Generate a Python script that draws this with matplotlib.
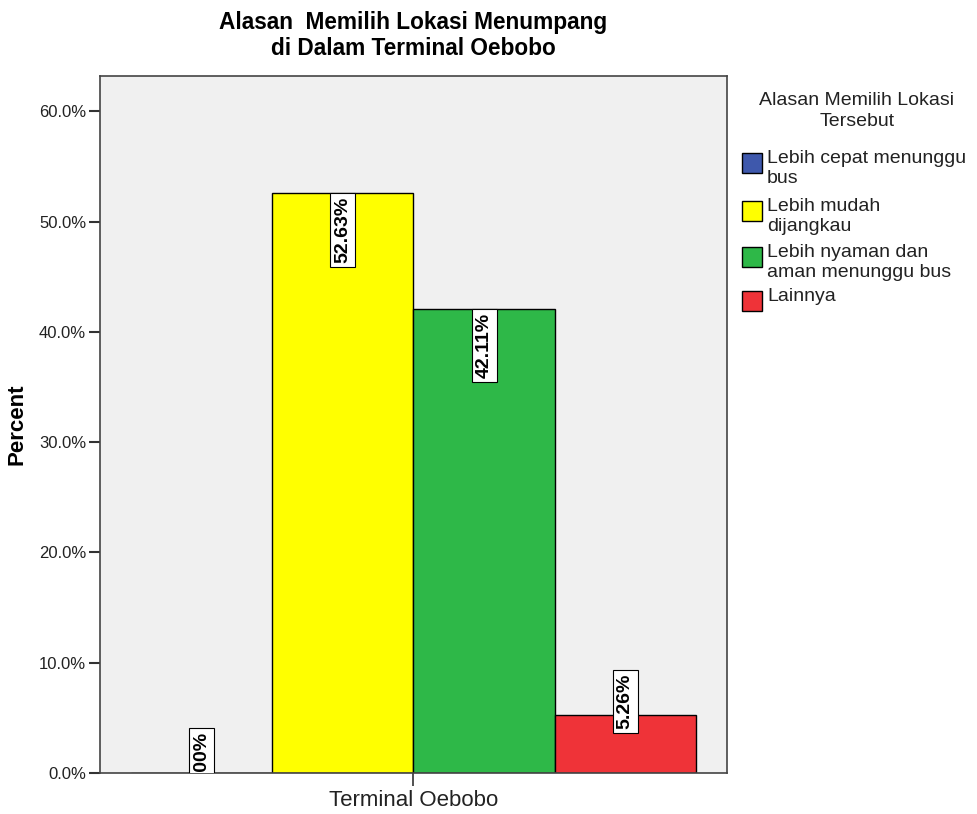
import matplotlib.pyplot as plt
import matplotlib.patches as mpatches
import numpy as np

plt.rcParams['font.family'] = ['Liberation Sans', 'DejaVu Sans']

# Datos del grafico
kategori = ["Lebih cepat menunggu\nbus", "Lebih mudah\ndijangkau",
            "Lebih nyaman dan\naman menunggu bus", "Lainnya"]
persen = [0.0, 52.63, 42.11, 5.26]
label_persen = ["0.00%", "52.63%", "42.11%", "5.26%"]
warna = ["#3E58AC", "#FFFF00", "#2EB848", "#EF3338"]
grup = ["Terminal Oebobo"]
yticks = [0, 10, 20, 30, 40, 50, 60]

fig = plt.figure(figsize=(9.78, 8.14), dpi=100)
ax = fig.add_axes([0.1022, 0.0504, 0.6412, 0.8562])
ax.set_facecolor("#F0F0F0")

lebar = 1.0
n = len(persen)
posisi = (np.arange(n) - (n - 1) / 2) * lebar
ax.bar(posisi, persen, width=lebar, color=warna, edgecolor="black", linewidth=1.0, zorder=2)

# Etiquetas de valores (rotadas, con caja blanca)
kotak = dict(boxstyle="square,pad=0.2", fc="white", ec="black", lw=0.8)
for x, v, lab in zip(posisi, persen, label_persen):
    if v > 8:
        ax.annotate(lab, xy=(x, v), xytext=(0, -3), textcoords="offset points",
                    rotation=90, ha="center", va="top", fontsize=14, fontweight="bold",
                    bbox=kotak, zorder=4, annotation_clip=False)
    else:
        ax.text(x, v + 1.2, lab, rotation=90, ha="center", va="center",
                fontsize=14, fontweight="bold", bbox=kotak, zorder=4, clip_on=True)

ax.set_xlim(-2.22, 2.22)
ax.set_ylim(0, 63.2)
ax.set_yticks(yticks)
ax.set_yticklabels([f"{t:.1f}%" for t in yticks], fontsize=12, color="#222222")
ax.set_xticks([0])
ax.set_xticklabels(grup, fontsize=16, color="#222222")
ax.tick_params(axis="y", length=8, width=1.5, pad=2, color="#333333")
ax.tick_params(axis="x", length=9, width=1.2, pad=3, color="#333333")
for s in ax.spines.values():
    s.set_color("#444444")
    s.set_linewidth(1.2)

ax.set_ylabel("Percent", fontsize=16, fontweight="bold", labelpad=8)
ax.set_title("Alasan  Memilih Lokasi Menumpang\ndi Dalam Terminal Oebobo",
             fontsize=16.3, fontweight="bold", linespacing=1.2, pad=15)

# Leyenda manual
fig.text(857 / 978, 1 - 111 / 814, "Alasan Memilih Lokasi\nTersebut", ha="center", va="center",
         fontsize=14, color="#222222", linespacing=1.25)
y_atas = [163, 211, 257, 301]
for yy, lab, c in zip(y_atas, kategori, warna):
    rect = mpatches.Rectangle((742 / 978, 1 - (yy + 10) / 814), 20 / 978, 20 / 814,
                              transform=fig.transFigure, fc=c, ec="black", lw=1.0)
    fig.patches.append(rect)
    fig.text(767 / 978, 1 - (yy - 13) / 814, lab, ha="left", va="top",
             fontsize=14, color="#222222", linespacing=1.25)

fig.savefig("out.png", dpi=100)
